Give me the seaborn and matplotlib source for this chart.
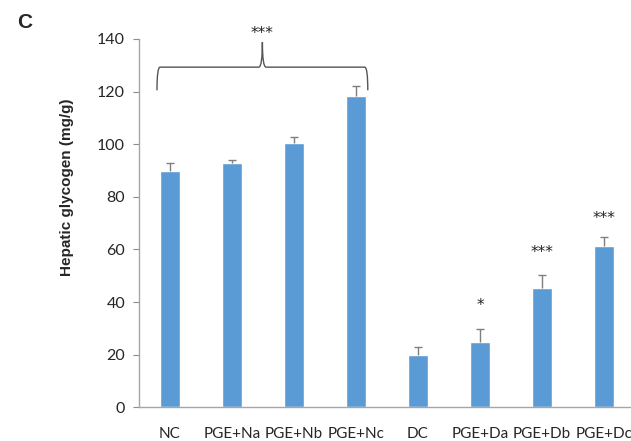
import matplotlib
matplotlib.use("Agg")
import matplotlib.pyplot as plt
import seaborn as sns
import pandas as pd
import numpy as np
from matplotlib.path import Path
from matplotlib.patches import PathPatch

categories = ["NC", "PGE+Na", "PGE+Nb", "PGE+Nc", "DC", "PGE+Da", "PGE+Db", "PGE+Dc"]
values = [90.0, 92.7, 100.5, 118.3, 20.0, 24.8, 45.5, 61.2]
errors = [2.9, 1.2, 2.4, 3.8, 3.0, 5.0, 4.8, 3.5]
stars = ["", "", "", "", "", "*", "***", "***"]
star_y = [0, 0, 0, 0, 0, 37.0, 57.0, 70.0]

sns.set_style("white")
plt.rcParams['font.family'] = ['Lato', 'DejaVu Sans']

df = pd.DataFrame({"group": categories, "glycogen": values})

fig = plt.figure(figsize=(6.31, 4.41), dpi=100)
ax = fig.add_axes([139/631, 33.7/441, 1 - 139/631, (407.3-39)/441])

sns.barplot(data=df, x="group", y="glycogen", color="#5B9BD5", saturation=1,
            width=0.31, errorbar=None, ax=ax, zorder=2)

xpos = np.arange(len(categories))
eb = ax.errorbar(xpos, values, yerr=[np.zeros(len(errors)), errors], fmt="none",
                 ecolor="#7f7f7f", elinewidth=1.0, capsize=3, capthick=1.0, zorder=3)
eb[1][0].set_visible(False)  # hide lower caps

for x, s, y in zip(xpos, stars, star_y):
    if s:
        ax.text(x, y, s, ha="center", va="baseline", fontsize=11, color="#222222",
                family=["DejaVu Sans"])

# bracket over normal groups
x0, x1 = -0.21, 3.19
xm = (x0 + x1) / 2
yb, yh, yp = 120.5, 129.3, 138.8
verts = [(x0, yb), (x0, yh), (x0 + 0.05, yh),
         (xm - 0.06, yh), (xm, yh), (xm, yp),
         (xm, yh), (xm + 0.06, yh),
         (x1 - 0.05, yh), (x1, yh), (x1, yb)]
codes = [Path.MOVETO, Path.CURVE3, Path.CURVE3,
         Path.LINETO, Path.CURVE3, Path.CURVE3,
         Path.CURVE3, Path.CURVE3,
         Path.LINETO, Path.CURVE3, Path.CURVE3]
ax.add_patch(PathPatch(Path(verts, codes), fill=False, edgecolor="#555555",
                       lw=1.0, clip_on=False, zorder=4))
ax.text(xm, 140.5, "***", ha="center", va="baseline", fontsize=11, color="#222222",
        family=["DejaVu Sans"], clip_on=False)

ax.set_xlim(-0.5, 7.435)
ax.set_ylim(0, 140)
ax.set_yticks(np.arange(0, 141, 20))
ax.set_xlabel("")
ax.set_ylabel("")
ax.tick_params(axis="y", which="both", left=True, length=4, width=0.8,
               color="#8c8c8c", labelsize=11.5, pad=6)
ax.tick_params(axis="x", bottom=False, labelsize=11, pad=11)
for side in ["top", "right"]:
    ax.spines[side].set_visible(False)
for side in ["left", "bottom"]:
    ax.spines[side].set_color("#a6a6a6")
    ax.spines[side].set_linewidth(1.0)

fig.text(67/631, 1 - 187/441, "Hepatic glycogen (mg/g)", rotation=90,
         fontsize=11, fontweight="bold", family=["Liberation Sans", "DejaVu Sans"],
         ha="center", va="center")
fig.text(25/631, 1 - 22/441, "C", fontsize=15, fontweight="bold",
         family=["Liberation Sans", "DejaVu Sans"], ha="center", va="center")

fig.savefig("out.png", dpi=100)
